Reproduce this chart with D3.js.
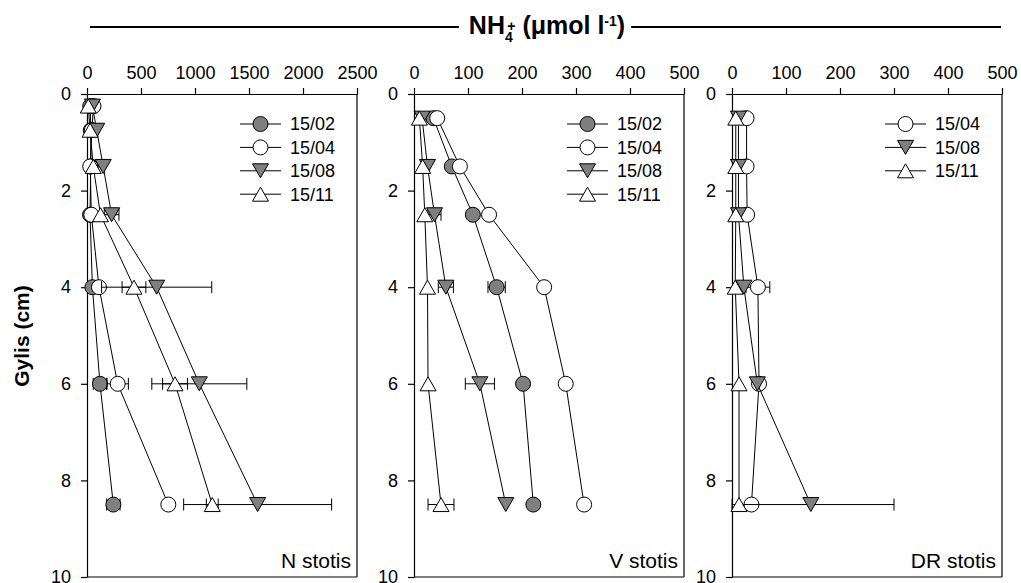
<!DOCTYPE html>
<html>
<head>
<meta charset="utf-8">
<script src="https://cdn.jsdelivr.net/npm/d3@7"></script>
<style>
  body { margin: 0; background: #fff; }
  svg { display: block; font-family: "Liberation Sans", Arial, sans-serif; }
</style>
</head>
<body>
<svg id="chart" width="1021" height="583"></svg>
<script>
// Depths (cm) for each station
const depthN = [0.25, 0.75, 1.5, 2.5, 4, 6, 8.5];
const depthV = [0.5, 1.5, 2.5, 4, 6, 8.5];
const depthDR = [0.5, 1.5, 2.5, 4, 6, 8.5];

// Tick labels
const ticksN = [0, 500, 1000, 1500, 2000, 2500];
const ticksVDR = [0, 100, 200, 300, 400, 500];
const ticksDepth = [0, 2, 4, 6, 8, 10];

// N stotis
const n1502 = [30, 35, 35, 28, 50, 120, 244];
const n1502Err = [0, 0, 0, 0, 0, 62, 62];
const n1504 = [60, 45, 30, 40, 111, 284, 753];
const n1504Err = [0, 0, 0, 0, 15, 99, 0];
const n1508 = [50, 90, 150, 228, 645, 1040, 1580];
const n1508Err = [0, 0, 0, 68, 510, 440, 685];
const n1511 = [12, 28, 58, 125, 435, 815, 1160];
const n1511Err = [0, 0, 0, 0, 110, 115, 55];

// V stotis
const v1502 = [36, 70, 109, 153, 202, 221];
const v1502Err = [0, 0, 0, 16, 0, 0];
const v1504 = [43, 85, 139, 241, 281, 315];
const v1504Err = [0, 0, 0, 0, 0, 0];
const v1508 = [15, 25, 38, 59, 122, 170];
const v1508Err = [0, 0, 12, 14, 27, 0];
const v1511 = [10, 16, 20, 25, 26, 50];
const v1511Err = [0, 0, 0, 0, 0, 24];

// DR stotis
const dr1504 = [27, 27, 28, 48, 50, 36];
const dr1504Err = [0, 0, 0, 22, 0, 0];
const dr1508 = [12, 12, 12, 22, 47, 146];
const dr1508Err = [0, 0, 0, 0, 0, 154];
const dr1511 = [7, 7, 7, 6, 13, 13];
const dr1511Err = [0, 0, 0, 0, 0, 0];

const gray = '#7f7f7f';
const styles = {
    '15/02': { shape: 'circle', fill: gray },
    '15/04': { shape: 'circle', fill: '#fff' },
    '15/08': { shape: 'down', fill: gray },
    '15/11': { shape: 'up', fill: '#fff' }
};

const panels = [
    { label: 'N stotis', xMax: 2500, ticks: ticksN, depth: depthN, series: [
        { name: '15/02', v: n1502, e: n1502Err },
        { name: '15/04', v: n1504, e: n1504Err },
        { name: '15/08', v: n1508, e: n1508Err },
        { name: '15/11', v: n1511, e: n1511Err }] },
    { label: 'V stotis', xMax: 500, ticks: ticksVDR, depth: depthV, series: [
        { name: '15/02', v: v1502, e: v1502Err },
        { name: '15/04', v: v1504, e: v1504Err },
        { name: '15/08', v: v1508, e: v1508Err },
        { name: '15/11', v: v1511, e: v1511Err }] },
    { label: 'DR stotis', xMax: 500, ticks: ticksVDR, depth: depthDR, series: [
        { name: '15/04', v: dr1504, e: dr1504Err },
        { name: '15/08', v: dr1508, e: dr1508Err },
        { name: '15/11', v: dr1511, e: dr1511Err }] }
];

const svg = d3.select('#chart');
const panelLeft = [87, 414, 732];
const panelW = 270;
const plotTop = 94, plotBottom = 577;
const y = d3.scaleLinear().domain([0, 10]).range([plotTop, plotBottom]);

// marker path centred at 0,0
function markerPath(shape) {
    if (shape === 'circle') {
        const r = 7.5;
        return `M${-r},0A${r},${r} 0 1,0 ${r},0A${r},${r} 0 1,0 ${-r},0Z`;
    }
    if (shape === 'down') return 'M-8,-7L8,-7L0,7Z';
    return 'M0,-7L8,7L-8,7Z';
}

function drawMarker(g, name, cx, cy) {
    g.append('path')
        .attr('d', markerPath(styles[name].shape))
        .attr('transform', `translate(${cx},${cy})`)
        .attr('fill', styles[name].fill)
        .attr('stroke', '#000')
        .attr('stroke-width', 1);
}

panels.forEach((p, pi) => {
    const left = panelLeft[pi];
    const x = d3.scaleLinear().domain([0, p.xMax]).range([left, left + panelW]);
    const g = svg.append('g');

    // frame (right and bottom)
    g.append('line').attr('x1', left + panelW).attr('x2', left + panelW)
        .attr('y1', plotTop).attr('y2', plotBottom).attr('stroke', '#000').attr('stroke-width', 1.2);
    g.append('line').attr('x1', left).attr('x2', left + panelW)
        .attr('y1', plotBottom).attr('y2', plotBottom).attr('stroke', '#000').attr('stroke-width', 1.2);

    // top axis
    const ax = g.append('g').attr('transform', `translate(0,${plotTop})`)
        .call(d3.axisTop(x).tickValues(p.ticks).tickFormat(d3.format('d'))
            .tickSize(6).tickPadding(9).tickSizeOuter(0));
    // left axis
    const ay = g.append('g').attr('transform', `translate(${left},0)`)
        .call(d3.axisLeft(y).tickValues(ticksDepth).tickFormat(d3.format('d'))
            .tickSize(6).tickPadding(10).tickSizeOuter(0));
    [ax, ay].forEach(a => {
        a.selectAll('text').attr('font-size', 18).attr('font-family', null).attr('fill', '#000');
        a.selectAll('line, path').attr('stroke', '#000').attr('stroke-width', 1.2);
    });

    // series
    p.series.forEach(s => {
        const pts = p.depth.map((d, i) => ({ d, v: s.v[i], e: s.e[i] }));
        g.append('path')
            .datum(pts)
            .attr('fill', 'none')
            .attr('stroke', '#000')
            .attr('stroke-width', 1)
            .attr('d', d3.line().x(d => x(d.v)).y(d => y(d.d)));

        pts.filter(d => d.e > 0).forEach(d => {
            const yy = y(d.d), x0 = x(Math.max(0, d.v - d.e)), x1 = x(d.v + d.e);
            g.append('line').attr('x1', x0).attr('x2', x1).attr('y1', yy).attr('y2', yy)
                .attr('stroke', '#000').attr('stroke-width', 1);
            [x0, x1].forEach(xx => {
                g.append('line').attr('x1', xx).attr('x2', xx).attr('y1', yy - 6).attr('y2', yy + 6)
                    .attr('stroke', '#000').attr('stroke-width', 1);
            });
        });

        pts.forEach(d => drawMarker(g, s.name, x(d.v), y(d.d)));
    });

    // legend
    p.series.forEach((s, i) => {
        const lg = g.append('g').attr('transform', `translate(${left + 153},${plotTop + 30 + i * 23.4})`);
        lg.append('line').attr('x1', 0).attr('x2', 41).attr('y1', 0).attr('y2', 0)
            .attr('stroke', '#000').attr('stroke-width', 1);
        drawMarker(lg, s.name, 20.5, 0);
        lg.append('text').attr('x', 50).attr('y', 0).attr('dy', '0.35em')
            .attr('font-size', 18).text(s.name);
    });

    // panel label
    g.append('text')
        .attr('x', left + panelW - 6)
        .attr('y', 568)
        .attr('text-anchor', 'end')
        .attr('font-size', 21)
        .text(p.label);
});

// title with line either side
const title = svg.append('text')
    .attr('x', 547)
    .attr('y', 34)
    .attr('text-anchor', 'middle')
    .attr('font-size', 25)
    .attr('font-weight', 'bold');
title.append('tspan').text('NH');
title.append('tspan').attr('font-size', 14).attr('dy', 8).text('4');
title.append('tspan').attr('font-size', 14).attr('dx', -5.5).attr('dy', -11).text('+');
title.append('tspan').attr('dy', 3).text(' (μmol l');
title.append('tspan').attr('font-size', 14).attr('dy', -8).text('-1');
title.append('tspan').attr('dy', 8).text(')');

const tb = title.node().getBBox();
svg.append('line').attr('x1', 90).attr('x2', tb.x - 10).attr('y1', 27).attr('y2', 27)
    .attr('stroke', '#000').attr('stroke-width', 2);
svg.append('line').attr('x1', tb.x + tb.width + 6).attr('x2', 1001).attr('y1', 27).attr('y2', 27)
    .attr('stroke', '#000').attr('stroke-width', 2);

// y axis title
svg.append('text')
    .attr('transform', 'translate(29,336) rotate(-90)')
    .attr('text-anchor', 'middle')
    .attr('font-size', 21)
    .attr('font-weight', 'bold')
    .text('Gylis (cm)');
</script>
</body>
</html>
